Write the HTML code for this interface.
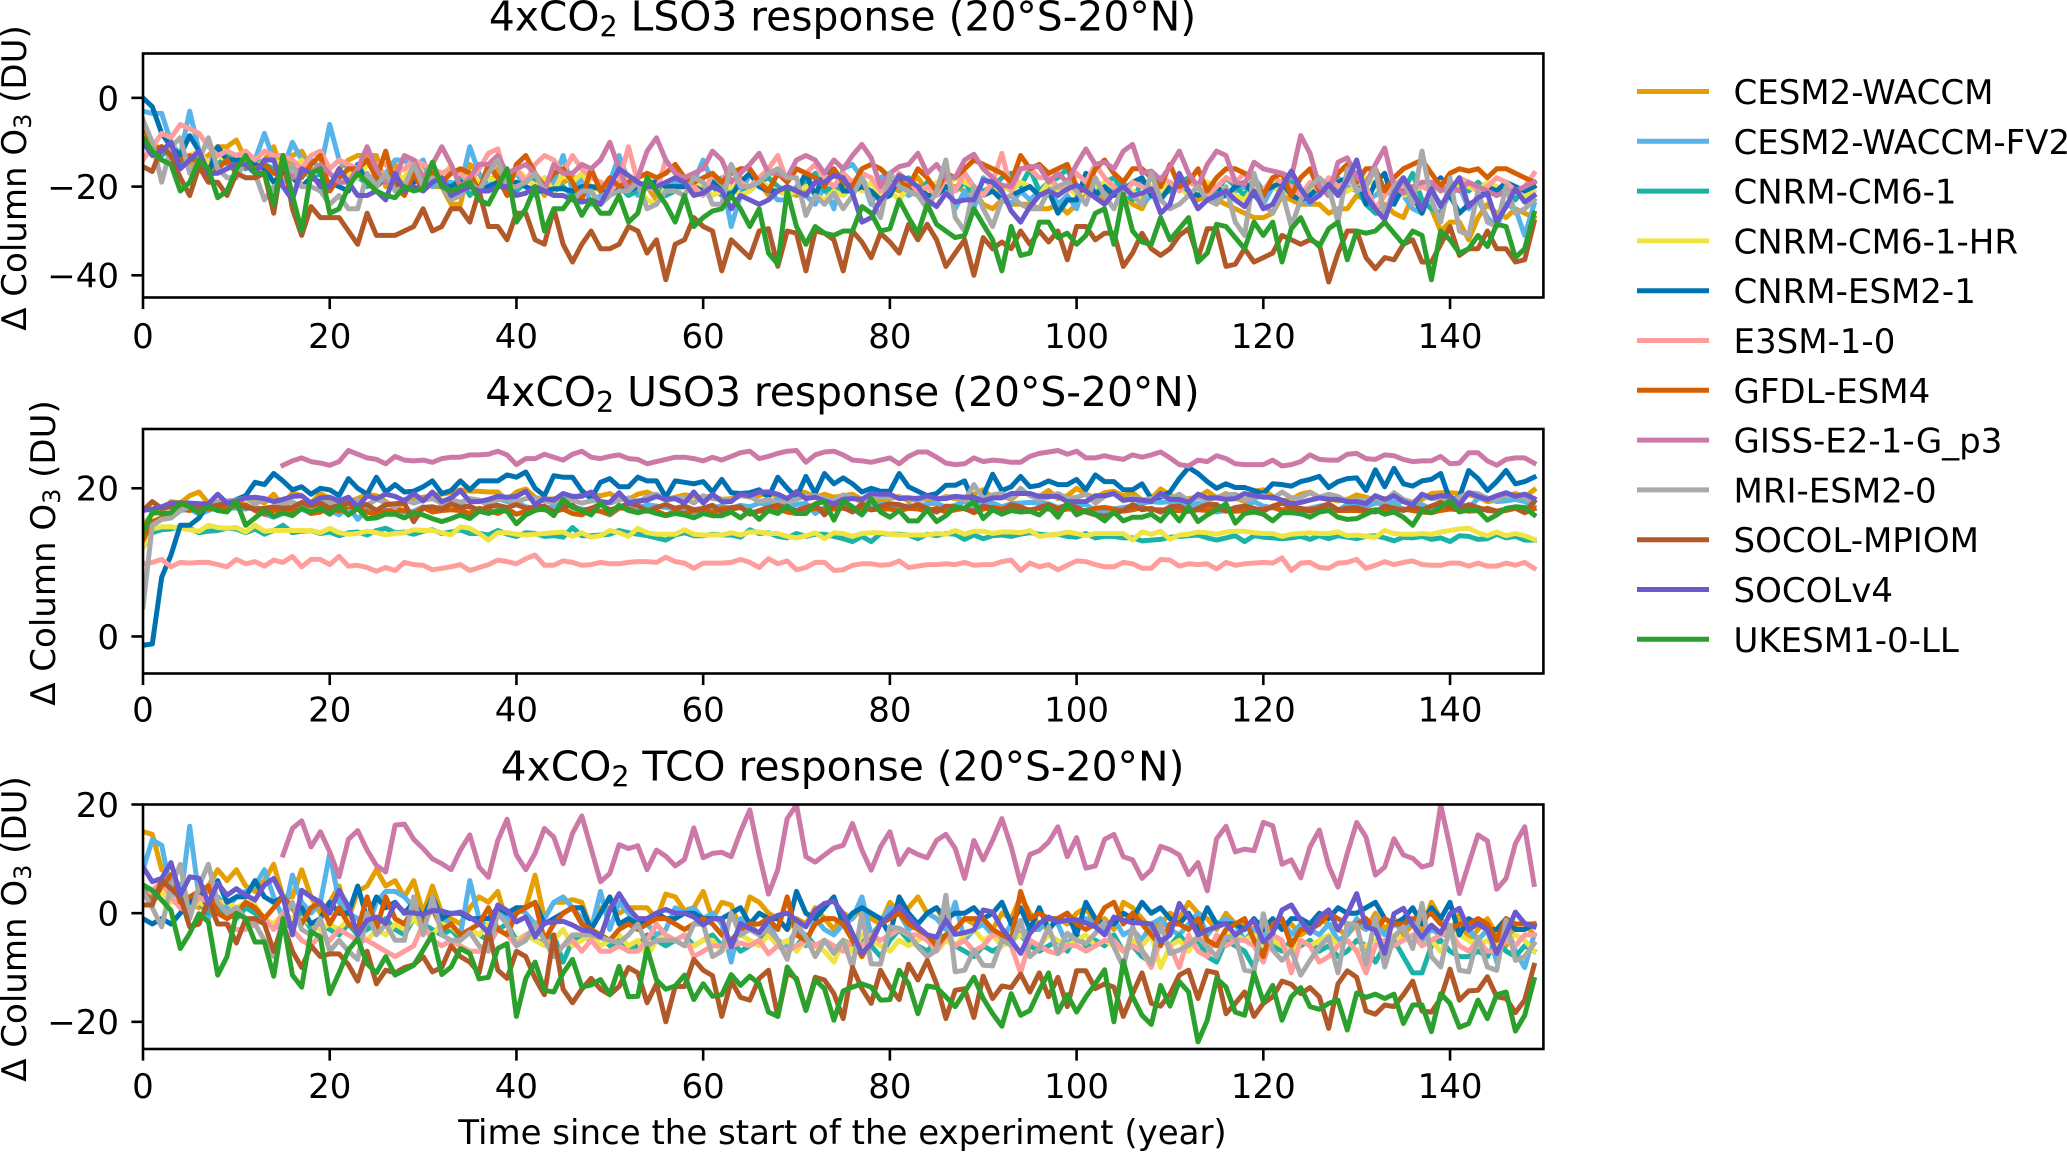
<!DOCTYPE html>
<html lang="en">
<head>
<meta charset="utf-8">
<title>4xCO2 column ozone response</title>
<style>
html,body{margin:0;padding:0;background:#fff;}
svg{display:block;}
text{font-family:"DejaVu Sans","Liberation Sans",sans-serif;fill:#000;}
</style>
</head>
<body>
<svg id="chart" xmlns="http://www.w3.org/2000/svg" width="2067" height="1152" viewBox="0 0 2067 1152"></svg>
<script>
const n = null;
const yearCount = 150;
const modelNames = ["CESM2-WACCM","CESM2-WACCM-FV2","CNRM-CM6-1","CNRM-CM6-1-HR","CNRM-ESM2-1","E3SM-1-0","GFDL-ESM4","GISS-E2-1-G_p3","MRI-ESM2-0","SOCOL-MPIOM","SOCOLv4","UKESM1-0-LL"];
const modelColors = ["#E69F00","#56B4E9","#1BB3A5","#F0E442","#0072B2","#FF9D9D","#D55E00","#CC79A7","#A9A9A9","#B15928","#6A5ACD","#2CA02C"];
const xTickValues = [0,20,40,60,80,100,120,140];
const lsoTicks = [0,-20,-40];
const usoTicks = [0,20];
const tcoTicks = [20,0,-20];

const lso3Cesm = [-7,-10,-12,-13,-14,-15,-14,-13,-11,-11,-9.5,-14,-15,-14,-11,-17,-13,-12,-16,-17,-21,-16,-14,-13,-13,
-13,-20,-15,-21,-15,-15,-20,-20,-24,-24,-15,-17,-21,-16,-21,-20,-19,-18,-22,-19,-19,-18,-18,-20,-20,
-21,-19,-20,-21,-20,-23,-20,-19,-18,-21,-20,-19,-20,-22,-18,-21,-19,-22,-20,-21,-22,-21,-19,-20,-22,
-20,-21,-19,-22,-23,-20,-21,-19,-18,-21,-22,-20,-20,-21,-21,-24,-25,-23,-24,-24,-24,-25,-25,-24,-26,-24,-21,-21,-23,-20,
-22,-24,-25,-21,-22,-21,-20,-21,-23,-22,-23,-24,-25,-26,-27,-27,-26,-22,-23,-24,-24,-24,-26,-25,-25,-22,-23,-25,-24,-26,-27,-22,-23,-25,-30,-28,-28,-32,-27,-24,-26,-27,-25,-26,-27];
const lso3Fv2 = [-3,-3.5,-3.5,-10,-13,-3,-12,-15,-12,-15,-15,-14,-14,-8,-14,-16,-10,-14,-14,-16,-6,-14,-16,-18,-19,
-17,-17,-14,-14,-16,-14,-20,-19,-19,-20,-11,-17,-20,-18,-19,-17,-20,-22,-18,-19,-13,-21,-18,-24,-22,
-19,-13,-19,-22,-20,-21,-22,-19,-20,-19,-14,-19,-18,-29,-22,-17,-20,-21,-23,-23,-20,-22,-24,-20,-25,-16,-15,-18,-24,-18,
-17,-20,-22,-21,-20,-22,-19,-25,-21,-25,-18,-20,-22,-24,-21,-23,-21,-20,-24,-22,-25,-18,-22,-21,-20,-19,-22,-24,-22,-19,
-21,-20,-22,-20,-19,-23,-22,-21,-20,-22,-24,-20,-21,-19,-23,-24,-20,-22,-18,-20,-21,-23,-22,-20,-21,-22,-25,-26,-21,-24,-22,-20,-25,-23,-27,-29,-24,-25,-31,-24];
const lso3Cnrm = [-9,-12,-13,-11,-15,-13,-14,-16,-15,-13,-14,-16,-14,-15,-16,-17,-16,-16,-18,-17,-20,-18,-19,-17,-20,
-19,-17,-19,-20,-18,-19,-17,-19,-20,-18,-22,-20,-18,-19,-20,-21,-19,-18,-20,-21,-20,-22,-20,-21,-19,
-21,-20,-22,-21,-19,-20,-22,-21,-20,-19,-21,-20,-22,-21,-20,-21,-19,-18,-20,-22,-21,-19,-17,-21,-20,-22,-20,-18,-22,-21,
-20,-19,-18,-22,-19,-21,-20,-21,-19,-22,-21,-20,-18,-17,-20,-16,-21,-19,-18,-16,-21,-20,-22,-19,-18,-21,-23,-19,-22,-20,
-21,-19,-18,-20,-23,-21,-18,-20,-22,-18,-21,-20,-19,-19,-21,-22,-19,-20,-21,-18,-20,-24,-26,-26,-23,-21,-17,-23,-25,-26,-21,-19,-21,-19,-21,-22,-21,-23,-20,-19];
const lso3Hr = [-8,-11,-12,-10,-14,-13,-12,-15,-13,-14,-14,-13,-16,-14,-14,-15,-16,-14,-18,-15,-17,-19,-17,-18,-15,
-16,-18,-18,-18,-14,-17,-19,-18,-15,-20,-17,-19,-18,-19,-21,-16,-18,-20,-18,-21,-17,-19,-17,-20,-21,
-19,-20,-18,-20,-23,-24,-20,-21,-20,-19,-20,-22,-21,-20,-22,-21,-19,-20,-21,-22,-21,-20,-22,-23,-21,-22,-20,-21,-19,-22,
-21,-23,-20,-22,-21,-19,-20,-18,-19,-20,-22,-21,-20,-21,-19,-20,-22,-19,-21,-20,-22,-21,-20,-19,-20,-22,-21,-23,-20,-21,
-19,-20,-22,-21,-19,-20,-21,-22,-23,-20,-21,-19,-22,-20,-22,-21,-19,-20,-22,-21,-20,-18,-20,-21,-19,-22,-21,-20,-21,-20,-22,-19,-20,-21,-19,-20,-22,-21,-22,-21];
const lso3Esm = [0,-2,-8,-11,-13,-8.5,-12,-17,-11,-14,-14,-14,-15,-16,-19,-17,-18,-20,-18,-19,-19,-20,-21,-15,-19,
-20,-18,-19,-20,-19,-18,-18,-20,-20,-19,-19,-21,-20,-19,-20,-19,-20,-21,-21,-20.5,-20.5,-21,-20,-20,-20.5,-21,-20,-21,-20,-19,-19,-20,-20,-20,-20,-21,-19,-21,-22,-19,-17,-20,-21,-21,-20,-21,
-17,-22,-17,-16,-21,-21,-20,-21,-23,-22,-18,-21,-20,-22,-22,-20,-21,-17,-20,-22,-21,-23,-22,-21,-20,-22,-21,-26,-23,-23,-17,-22,-20,-22,-21,-19,-18,-22,-23,-20,-19,-21,-22,-21,-20,-22,-20,-19,-22,-21,-20,-19,-22,-23,-22,-20,-22,-19,-18,-17,-24,-19,-17,-24,-20,-22,-26,-20,-18,-22,-26,-24,-23,-20,-21,-19,-20,-21,-20];
const lso3E3sm = [-14,-11,-8,-9,-6,-7,-8,-11,-13,-12,-13,-12,-14,-12,-13,-13,-14,-16,-13,-12,-16,-14,-15,-16,-14,
-15,-15,-17,-16,-14,-15,-16,-17,-16,-17,-19,-16,-12.5,-11.5,-19,-16,-19,-15,-13,-14,-17,-13,-16,-18,-19,
-21,-19,-11,-19,-20,-21,-14,-17,-19,-20,-22,-17,-19,-15,-19,-20,-18,-16,-13,-19,-16,-17,-15,-18,-20,-17,-19,-17,-18,-21,
-20,-17,-19,-21,-20,-22,-18,-21,-17,-20,-22,-19,-12.5,-21,-16,-16,-18,-18,-20,-21,-17,-19,-15,-18,-20,-22,-19,-20,-21,-18,
-19,-21,-19,-20,-22,-20,-18,-19,-17,-19,-21,-18,-19,-20,-22,-19,-21,-18,-20,-19,-19,-20,-25,-22,-19,-20,-20,-20,-21,-19,-21,-18,-19,-21,-20,-18,-19,-21,-20,-17];
const lso3Gfdl = [-5,-12,-11,-13,-14,-13,-15,-18,-16,-14,-17,-15,-16,-15,-17,-18,-18,-18,-15,-13,-21,-18,-16,-16,-14,-18,-12,-20,-22,-17,-21,-17,-19,-17,-16,-17,-21,-15,-18,-22,-15,-13,-17,-20,-17,-16,-19,-23,-16,-21,-18,-20,-19,-18,-17,-18,-17,-15,-18,-19,-18,-17,-19,-17,-16,-16,-19,-21,-17,-19,-16,-17,-18,-20,-16,-19,-20,-16,-15,-16,-18,-19,-20,-16,-18,-21,-17,-18,-16,-14,-15,-16,-17,-19,-13,-16,-15,-17,-16,-15,-20,-21,-16,-14,-17,-19,-16,-16,-18,-20,-15,-20,-19,-16,-21,-18,-16,-16,-17,-18,-22,-18,-17,-22,-18,-16,-21,-20,-17,-15,-19,-16,-16,-21,-18,-16,-15,-14,-17,-20,-17,-16,-16.5,-16,-18,-16,-16,-17,-18,-19];
const lso3Giss = [n,n,n,n,n,n,n,n,n,n,n,n,n,n,n,-14,-18,-16,-17,-15,-17,-19,-19,-16,-11,-16,-19,-18,-13,-14,-18,-15,-11,-15,-20,-18,-15,-15,-13,-17,-16,-15,-17,-21,-15,-17,-17,-15,-16,-14,-10,-16,-21,-18,-12,-9,-14,-17,-18,-17,-16,-12,-14,-19,-17,-15,-12.5,-17,-17,-18,-14,-13,-14,-17,-14,-16,-13,-10.5,-13.5,-20,-17,-15.5,-15,-12.5,-17,-15,-18,-18,-14,-12.7,-16,-18,-19.7,-20,-16,-15.5,-15.5,-19,-17,-19,-15,-11.5,-15,-14.5,-16,-12,-10.5,-17,-16.5,-18.5,-15.5,-12,-17,-20,-15,-12,-13,-19,-19.5,-14.5,-16,-16.5,-17,-18,-8.5,-12.5,-20,-22,-14.5,-13.5,-18,-19.3,-15,-11.3,-20,-21.5,-20,-19,-19,-21,-20,-21,-19,-20,-21,-22,-21,-21,-20,-19];
const lso3Mri = [-5,-10,-19,-11,-9,-17,-14,-9,-16,-18,-18,-14,-17,-23,-20,-19,-15,-20,-20,-21,-24,-22,-25,-25,-17,-20,-17,-21,-20,-15,-20,-18,-20,-23,-22,-19,-21,-17,-14,-20,-20,-19,-17,-21,-22,-22,-23,-21,-21,-24,-22,-21,-21,-19,-25,-24,-21,-21,-22,-18,-19,-24,-24,-15,-20,-20,-19,-17,-16,-18,-18,-26.5,-22,-24,-21.5,-25,-22,-18,-23,-27,-17,-20,-21,-22,-25,-21,-14,-27,-30,-20,-25,-29,-23,-22,-24,-25,-25,-21,-20,-19,-21,-24,-18,-22,-25,-20,-22,-24,-17,-23,-25,-24,-22,-20,-23,-24,-20,-28,-31,-17,-24,-26,-21,-29,-23,-20,-18,-20,-28,-16,-21,-20,-16,-27,-20,-18,-24,-12,-23,-28,-18,-30,-31,-21,-28,-29,-20,-26,-25,-23];
const lso3Mpiom = [-15.5,-16.6,-11,-13,-18,-22,-15.5,-19,-19,-22,-17,-18,-18,-17,-26,-13,-25,-31,-24.5,-27,-27,-27,-30,-33,-26,-31,-31,-31,-30,-29,-25,-30,-29,-25,-25,-28,-21,-29,-29,-32,-26,-26,-32,-33,-25,-33,-37,-33,-30,-34,-34,-33,-29,-30,-35,-32,-41,-33,-32,-27,-29,-30,-39,-32,-34,-36,-30,-29.5,-38,-30,-30.5,-39,-30,-30.5,-32,-39,-30,-32.5,-36,-30.5,-32.5,-35,-28.5,-32,-28.5,-32,-38,-35,-32,-40,-31.5,-34,-32.5,-34,-30,-33,-30,-32.5,-30,-36.5,-29,-29,-32,-30.5,-30.5,-38,-35,-30.5,-34,-35.5,-34,-31,-29.5,-36,-29.5,-29.5,-38,-37.5,-34,-37,-36,-35,-31,-32,-33,-32,-33,-41.5,-35,-30,-30,-36,-38.5,-36,-36.5,-33,-32,-37,-37,-33,-29,-35.5,-34,-34,-30,-34,-34,-37,-36.5,-28];
const lso3V4 = [-10,-13,-12,-10,-16,-14,-12,-17,-17,-16,-15,-15,-17,-14,-14,-20,-23,-16,-17,-20,-20,-16,-19,-22,-22,-21,-23,-17,-21,-20,-21,-19,-18,-22,-21,-20,-21,-21,-20,-20,-22,-21.5,-20,-21,-22,-22,-23,-23.5,-23,-24,-20,-16,-17.5,-19,-20,-20,-19,-18,-19,-22,-21.5,-20,-21,-25,-22,-23,-24,-23,-21,-20,-21,-22,-19,-19,-17.5,-18,-21.5,-28,-27,-23,-21,-17.5,-18.5,-20,-23,-24.5,-21.5,-23.5,-23,-23,-18.5,-19,-21,-25.5,-28,-24.5,-22,-21,-22,-20.5,-19.7,-21,-22.5,-24,-21.5,-20,-22,-21.5,-20.5,-26,-24,-17,-21,-25,-23,-22,-21,-23,-24.5,-21,-25,-24,-20,-16.5,-20.5,-23.5,-22,-19.5,-22,-18.5,-14,-22,-25,-27.5,-21.5,-18,-21.5,-25,-20.5,-24.5,-21,-18,-24.5,-22.5,-21.5,-28,-24.5,-20.5,-23.5,-22];
const lso3Uk = [-9,-12,-14,-15,-21,-19,-14,-16,-22.5,-21,-16,-13,-17,-17,-24,-13,-22,-30,-17,-16,-26,-25,-20,-17,-19,-21,-22,-22.5,-20,-21,-20.5,-14.5,-20,-21,-20,-19,-23,-24,-20,-16,-28,-25,-20,-30,-25,-25,-22,-26.5,-23,-26,-26,-22,-28,-26,-18,-21,-24,-28,-22,-29,-27,-25.5,-25,-22,-25,-29,-25,-35,-37.5,-21,-29,-33,-29,-30.5,-31,-30,-30,-24.5,-26,-30,-29.5,-23,-27,-30.5,-24,-28.5,-30,-31.5,-31,-25,-28.5,-32,-39,-29,-35.5,-35,-28,-28,-31.5,-30.5,-33,-31,-26,-25,-33,-21.7,-30,-32.5,-33,-27,-32,-29.5,-27,-37,-35,-28.5,-29,-31.5,-34,-28,-31,-28,-37,-29.5,-27,-31.5,-33.5,-29.5,-28,-36.5,-30,-30.5,-30,-28,-30.5,-33,-30,-31,-41,-30,-32,-35,-34,-31,-33.5,-28.5,-29,-36,-34,-26];

const uso3Cesm = [15,16.5,17,18.2,18,19,19.5,18,18.2,17.8,17.7,18.8,18.5,18,19.2,17.6,19.4,19,18,19.3,18.6,18,18.2,18.6,19.2,19,18.2,17.4,18,18.6,18.8,19,19.2,19.4,19.8,19.6,19.6,19.5,19.5,18.4,19.5,19.9,18.8,18.4,18.6,18.2,18.5,19.2,19.1,19,19.3,18.6,18.5,19.2,19.5,18.9,18.5,18.8,19.1,18.9,18.7,19,18.5,18.6,19,18.8,19,19.5,18.8,18.5,19.6,19.4,18.8,19.2,18.8,19,19.2,18.5,18.7,18.2,18.6,18.9,18.3,18.7,18.5,18.4,18.9,18.6,18.3,19.2,19.8,18.7,19,18.5,19.5,19.1,18.9,19.7,18.6,19,20,19.2,18.7,19.4,19.6,19,19.4,18.4,18.6,19.9,19.1,18.4,18.6,18.8,19.6,18.7,19.3,18.7,18.2,19.6,19.8,18.9,18.3,18.5,19.2,19.5,18.8,18.6,18.3,18.5,19.1,18.8,18.4,18.6,17.9,18.3,18,18.5,19.3,19.4,19.4,19.3,19.1,18.8,18.2,18.4,19,19.3,18.8,19.8];
const uso3Fv2 = [13,15,15.8,16,17,17.2,16.5,17,17.5,17.4,17.3,17.2,17.6,16.5,16.1,16.6,16.9,17.2,16.6,17,17,16.4,17.5,15.8,17.1,16.8,17.2,16.6,16.8,16.9,17.5,17,17.6,18.4,18,17.4,16.9,17.2,18.6,18.2,18.1,17.5,17.3,17.4,17.5,17.9,17.5,17.2,17,16.9,16.4,17.3,17.4,17.2,17.8,17.6,17.4,17.2,16.9,16.6,17.2,17.4,17.6,17.3,17.7,17.5,18,17.8,18.6,17.6,17.8,18,16.6,17.4,18.1,17.5,17.2,16.4,17.8,17.9,17.8,17.2,17.7,17.5,17.9,18,17.4,17.7,18.2,17.6,17.9,18,17.5,17.9,18,18.1,18,17.9,17.4,17.7,17.8,17.8,17,16.8,17.2,17.4,17.6,18,18.2,18.1,18.2,18,17.7,18,17.6,16.8,17,17,17.6,18.2,17.6,17.4,17,16.8,16.5,17.3,17.6,17.8,17,17.8,18,17.5,18,17.9,18.2,17,17.6,17.8,17.2,17.9,18.1,18,17.4,18.6,18.7,18.2,18.3,18.5,18.2,17.5];
const uso3Cnrm = [12,14,14.4,14.5,14.8,14.6,14,14.2,14.3,14.6,14.5,14,14.5,13.8,14.3,15,14,14.2,14.3,13.9,14.1,13.6,14,14.1,13.7,14.3,14.6,14,14.1,13.8,14.2,14.4,13.9,14.1,14.4,13.9,13.9,13.7,14.3,13.8,13.5,14,13.9,13.5,13.6,13.4,14.7,13.6,13.6,13.7,13.8,14.3,14,13.8,13.6,13.3,13,13.7,14,13.6,13.6,13.8,13.7,13.7,13.4,14.4,13.9,14,13.5,13.3,13.9,13.5,13.8,13.8,13.5,13.2,12.8,13.5,12.8,13.9,13.8,13.8,13.7,13.2,13.8,13.6,13.9,13.8,13.1,13.7,13.2,13.6,13.7,13.5,13.8,14,13.8,13.7,13.8,13.5,13.4,13.9,13.3,13.5,13.5,13.3,13.3,12.9,13,13.1,13.4,13.5,13.6,13.7,13.3,13,13.3,13.6,12.8,13.6,13.4,13.3,13.2,13.3,13.5,13.1,13.6,13.2,13.6,13.4,13.2,13.5,13.6,13.3,12.9,13.4,13.3,13.5,13.1,13.3,12.8,13.6,13.5,13.1,13.2,13.8,13.3,13.5,13,13];
const uso3Hr = [12,14.5,14.8,14.8,14.6,14.4,14.2,15,14.7,14.6,14.7,14.1,15,14.2,14.3,14.3,14.3,14.3,14.3,14,14.6,14,13.8,13.9,14.2,14,13.7,13.9,14,14.4,14.3,14.3,14,13.7,14.8,14.6,13.9,13,14,14,13.8,13.7,13.8,13.9,14,14.1,13.5,14,13.4,13.6,14.3,14,13.5,14.6,14,13.8,13.8,13.8,14.4,13.8,13.7,13.7,13.7,14,13.7,14.1,14.1,13.9,13.9,13.5,13.3,13.6,14,13.2,14,13.9,13.5,13.9,14,14,13.8,13.7,13.7,13.7,13.7,13.9,13.8,14.3,13.8,14.2,14.2,13.9,14.1,14.1,14,14.3,13.5,13.7,13.8,14.1,13.9,13.6,13.9,13.9,13.9,13.9,13,14.1,13.8,14.2,13.1,13.7,13.8,14.1,14,13.8,14.1,14.2,14.2,14,13.9,13.9,13.5,13.8,13.9,14,13.9,13.9,14.1,13.6,13.7,13.5,13.4,14.3,13.9,13.8,13.8,13.9,13.8,14.1,14.3,14.5,14.6,14,13.6,14.1,13.6,13.9,13.6,13.1];
const uso3Esm = [-1.2,-1,8,11,15,15,16,18,18,17.7,18.5,19,20.8,20.5,22,21,19.8,20.2,19.2,20,19.8,19,21.3,20,19.2,21.5,19.5,20.5,19.5,19.6,20.2,21,19.3,19.7,21,19.8,21,21,21,21.8,21.5,22.2,20,19,21.7,21.5,21.5,19.7,18.6,20.8,21.3,20.2,20.2,21.5,21,21,18.8,21,20.8,20.6,20.9,19.5,21.2,19.4,19.3,19.4,19.8,18.8,21.5,20,18.8,21.6,19.3,22,20.6,21.4,20.6,19.5,20,19.6,19.6,22,20.2,19.6,19,19.3,20.4,20.4,21,18,19,21.9,19.7,20.2,21.6,20.2,20.4,21,20.5,20.5,21.2,19.8,21.8,20.9,20.9,19.8,19.8,20.6,18.6,18.8,19.5,21.3,22.8,22,20.9,20,20.6,20.1,20.1,19.7,19.3,20.6,20.5,20.3,20.9,21.2,21.6,20.1,20.9,21.3,21.4,19.7,22.5,20.2,22.7,20.6,20.3,21,21.2,22,18.4,18.8,22.4,21.3,19.7,20.9,22.4,20.6,20.9,21.5];
const uso3E3sm = [9.8,10,10.4,9.4,10,9.9,10,10,9.7,9.4,10.4,9.8,10.1,9.5,10.3,10,10.8,9.4,10.4,10.4,9.7,10.8,9.5,9.6,9.3,8.8,9.3,8.9,10,9.7,9.6,9,9.2,9.4,9.7,8.9,9.3,9.7,10.3,10.1,9.8,10.5,11,9.6,9.6,10.2,10,9.6,9.7,10,9.8,9.8,10,10.1,10.1,10,10.7,10.1,9.9,9.2,9.9,9.9,9.9,10,10.4,10,9.3,10.5,9.8,10.2,9,9.3,10,10,8.9,9,9.6,9.8,9.8,9.6,9.7,10.2,9.3,9.5,9.7,9.7,9.8,9.7,10,9.6,9.7,9.7,10.1,10.3,8.9,9.9,9.4,9.7,9,9.6,10.2,10.1,9.7,9.4,9.4,10,9.8,9.2,9.2,10.4,10.3,9.5,9.8,9.7,9.8,9.1,10,9.6,9.8,9.9,10,9.9,10.6,8.9,9.9,10,9.3,9.2,9.9,10,10.4,9.2,9.6,10.1,9.7,10,10.2,9.7,9.6,9.6,9.9,9.9,9.5,9.9,9.5,9.5,9.9,9.6,10,9.2];
const uso3Gfdl = [13,15.5,16,16.5,17.2,17,17.8,17.2,17.4,17.5,17.6,17.8,17,16.5,17,17.2,17,17.5,16.6,16.8,17.4,16.9,17.6,17.3,16.8,16.4,16.9,17.1,17,16.6,17.4,16.8,17,17.1,17,16.6,17.3,17,16.6,17.2,16.5,16.9,17.2,17.1,16.8,17.2,16.6,16.4,17.2,16.9,16.5,17.4,17.2,16.7,17.1,16.9,16.4,16.8,16.6,17,17.1,16.7,17.3,17.2,17.4,16.7,16.9,17,17.2,16.8,16.6,17,17.3,17.1,17.2,17.3,17.1,17.4,17.1,17.2,17.2,17,17.3,17.2,16.9,17.3,16.8,17.1,17.3,16.7,17.2,17.4,17.2,17.5,17.3,17.1,17.3,17.2,17,17.2,17.2,16.9,17.3,17.4,17.2,16.9,17.1,17.4,17.1,17.1,17,17,16.9,17.1,17,17.2,17,16.9,17,17,17.2,17.4,17.1,17.1,17.2,17.2,17.2,17.1,17,17,17,16.9,17.1,17,17,17.2,17,16.8,16.7,17,17.2,17.1,16.9,17,17.3,16.9,17,17.3,16.7,17.2];
const uso3Giss = [n,n,n,n,n,n,n,n,n,n,n,n,n,n,n,23.1,23.7,24.1,23.6,23.4,23.1,23.6,25.1,24.6,24.1,23.9,23.3,24.3,23.8,23.7,23.8,23.5,24,24.2,24.2,24.5,24.5,24.6,25,24.5,23.2,24,24,24.6,24.2,23.8,24.6,25,24.2,24,24.3,24.5,24,23.9,23.3,23.6,23.9,24.2,24.2,24,23.7,24.2,23.8,24.3,24.8,25,24,24.3,24.7,25,25.1,23.5,24.5,24.9,25,24.5,23.8,23.7,23.5,23.8,24.1,23.3,24.3,24.9,24.9,24.2,23.4,23.2,23.3,24.1,23.6,23.8,23.7,23.5,23.5,24.3,24.7,24.9,25.1,24.6,25,24.1,24.1,24.4,24.1,23.9,24.5,24.2,24.5,24.9,24.1,23.2,23,23.8,23.6,24.4,24,23.3,23.2,23.2,23.2,23.8,23,23.2,23.6,24.5,23.9,23.8,23.8,24.6,24.7,24,23.9,24.5,24.4,23.9,23.6,23.7,23.7,24.3,23.3,23.4,24.8,24.8,23.7,23.1,23.9,24.1,24.1,23.4];
const uso3Mri = [4,15,15.8,16,17,17.5,17.5,18,18.2,18.3,18.4,18.7,17.9,18.5,18.3,17.8,18.2,17.4,17.7,18.4,17.9,18.4,17.8,18.4,17.7,18.5,18.1,17.4,18.5,18,18.4,18.6,18,18.5,18.1,18.6,18.4,17.7,18.5,18.5,18.2,18.6,18.7,18.3,18.1,18.9,18.4,18,18.3,18.3,18,18.4,18.7,18,18.9,19.2,18.3,18.7,18.7,18,19,18.6,18.5,18.4,19,18.9,18.2,18.5,18,18.3,18.5,19,19,18.6,18.3,19.1,18.8,18.1,18.6,18.9,18.7,18.8,18.7,18.2,18.9,18.4,18.8,18.9,18.3,20.5,18.6,19.1,19.3,18.6,20,19,18.5,18.8,19.3,18.6,18.8,19.2,18,18.9,19.3,18.3,18.8,18.4,18.6,19.1,18.6,19.2,18.3,18.8,18.3,18.8,19.1,19.2,18.4,18.7,19,18.6,19.5,18.7,18.8,19.4,18.8,19.2,18.9,18.2,18.5,18.4,18.8,18.2,19.4,18.5,18.1,19,18.6,18.7,18.2,18.8,19.4,19.3,18.6,18.4,19.2,18.9,18.7,18.2];
const uso3Mpiom = [17,18.2,17.3,17.5,18.1,17.6,17.2,17.5,17.7,18,17.9,17.4,17.2,17.3,17.5,17.3,17.4,18.1,17.6,18,17.3,17.7,18,17.5,17.8,17,17.8,17.9,18,15.5,17.4,17.5,17.2,17.9,17.4,17.6,17,17.5,17.7,17.4,17.8,17.3,17.4,17.6,16.8,17.5,17.7,16.9,17.3,17.8,17.1,17.4,18,17.7,16.9,17.4,17.8,17.3,17.6,17.1,17.3,17.7,16.8,17.4,17.5,16.5,17,17.4,17.7,17.3,17,17.4,17.8,16.4,17.8,17.4,16.8,17.9,17.1,17.6,17.9,17.8,17.4,17.8,17.3,16.8,17.6,17.5,17.2,16.9,17.6,17.3,17,17.8,17.5,16.9,17.4,17.8,17.2,17.8,17.4,16.8,16.4,16.2,16.6,17,17.8,17.1,17.3,16.8,17.5,17.6,16.9,17.3,17.8,17.8,16.9,17.4,17.6,17.3,16.9,17.6,18,17.5,17.3,16.9,17.4,17.9,17.1,17.3,17.4,17,16.8,17.6,17.3,17,17.5,17.1,17.6,18.1,17.4,17.2,17.8,17.4,17,16.9,17.2,17.4,16.8,18.2];
const uso3V4 = [17,17.2,17.5,18,18,18,17.9,17.9,19.2,18,18.3,18.7,18.8,18.6,18.2,18.5,18.9,19,18,18.7,18.8,18.3,18.8,17.5,19,18.6,19.2,18.9,18.3,19.3,18.3,19.5,18.2,18.7,19.7,18.2,18.2,18.5,18.9,18.8,18.9,19.6,17.8,18.6,18.4,19.3,18.9,18.9,19.5,18.1,18.1,19.4,18,18.3,18.4,18.9,18.5,18.6,18,19.5,18,19.2,18.2,18.2,19.2,19,19.5,19.5,19.2,18.6,19.5,18.6,18.8,18.3,17.9,18.5,18.6,18.5,19.3,19.2,19.2,18.6,18.7,18.6,19,18.6,18.6,18.9,18.8,18.8,18.3,18.7,18.7,19.3,19.3,19.3,18.9,18.9,18.9,18.2,18.2,18.2,19,19,19.3,18.4,18.5,18.4,18.2,19.3,18.5,18.5,18.1,19.2,18.7,18.7,18.5,18.6,19.3,19,18.8,18.8,18.4,17.9,18.1,18.4,18.7,18.5,18.5,18.2,18.2,17.9,19,18.5,19,18.2,17.8,19.2,18.7,19,18.9,17.8,19.4,18.9,18.5,19,19.4,18.9,19.2,18.6];
const uso3Uk = [14,16.8,16.6,16.7,18,17.5,16.7,17.5,17,16.8,18.2,15,16,17,16.2,16.7,16.3,17.3,16.8,17.3,16.5,17.6,16.4,17.3,15.9,16,16.5,16.5,16,16.7,16.4,15.9,15.5,15.9,16.4,15.9,16.9,16.6,17,16.9,15.2,16.4,17,17.3,16.3,18.5,17.4,17,16.4,18,16.7,17.7,17,16.7,17,16.6,16.3,16.6,16.4,16,16.6,16.3,16.3,16.8,16,17,15.8,17,16.6,17.6,16.6,16.6,17.9,18.2,15.7,18.3,17.5,16.4,18.6,16.8,16.1,17,15.6,15.6,17.1,15.5,16.3,17.5,17.3,18.2,15.9,17.1,16.5,17,16.8,16.9,16.4,17.5,16.1,18,16.4,17,16.5,15.6,16.8,15.6,16.1,16.1,16.5,15.6,17.1,15.6,17.5,15.5,16.4,17.1,17.9,15.3,16.6,16.8,16.5,15.6,16.7,16.7,16.6,16.1,16.8,17,16.1,15.8,15.9,16.5,17.1,16.5,16.8,16.1,15,17,16.7,17.5,18.3,16.8,17.1,17,15.7,16.4,17.3,17.5,17.4,16.4];

const tcoCesm = [15,14.5,8,7,5,2,1,5,8,6,8,5,4,6,9,3,3,8,3,0,2,5,-1,4,5,8,5,6,3,6,0,5,0,-1,-2,1,3,2,4,-2,0,1,7,-1,2,2,2.5,2,-3,1,1,0,1,1,1,-1,3.5,3,0.5,1,4,-1,2,1.5,-3,3,2,0,-1,-3,-1,-2,1,-1,-3,0,-1,1,-1,-2,2,0,1,3,0,1,-2,-3,-1,-2,-1,-3,0,-1,3,0,-2,-3,-1,-2,0,1,-2,-1,-3,2,1,-1,-3,-2,0,-1,2,0,-1,-3,0,-2,-2,-3,-1,-3,-2,-2,-4,-3,-1,-2,-3,-4,-2,-3,0,-3,-1,-4,-2,-3,2,-1,-4,0,-5,-3,-1,-4,-6,-2,-2,-4,-1,-5];
const tcoFv2 = [8,13.5,12.5,4,2,16,3,-1,3,1,3,4,5,8,3,-1,7,2,0,2,11,2,0,-1,-3,2,4,4,3,1,-1,2,-1,-2,-4,6,-1,-3,1,-1,1,0,-2,-1,2,3,1,-1,-3,4,-3,2,0,-3,-2,-4,-3,1,0,1,-1,0,-2,-9,-1,-2,-4,-2,-5,-6,-3,-6,-1,-3,-4,-2,-1,3,-4,-2,1,0,-3,-2,0,-1,-3,2,-5,-3,-2,-4,-5,-2,-4,-3,-3,-1,-2,-6,-3,-1,-2,-3,-1,-4,-3,-5,-2,-1,-3,-4,-2,0,-4,-2,-1,-2,-5,-3,-4,-2,-1,-4,-2,-3,-4,-2,-5,-4,-1,-3,-2,-4,-2,-3,-1,-5,-3,-4,-4,-2,-3,-5,-3,-9,-2,-7,-10,-4];
const tcoCnrm = [5,3,4,3,1,3,2,0,1,0,-1,1,0,-2,-2,-3,-1,0,-3,-2,-3,-4,-2,-4,-3,-2,-1,-3,-4,-1,-2,-3,-4,-3,-5,-3,-4,-5,-3,-2,-5,-4,-5,-5.5,-4,-9,-5,-4,-5,-4,-6,-5,-7,-6,-4,-5,-6,-5,-4,-6,-5,-4,-6,-5,-7,-6,-5,-4,-6,-7,-6,-4,-6,-5,-7,-5,-6,-5,-6,-8,-5,-3,-5,-6,-7,-5,-4,-6,-7,-8,-6,-7,-6,-5,-4,-6,-7,-6,-5,-7,-4,-6,-5,-6,-4,-7,-6,-8,-9,-5,-6,-4,-6,-5,-8,-9,-5,-6,-7,-10,-5,-6,-7,-5,-6,-5,-7,-6,-8,-7,-5,-6,-9,-6,-5,-8,-11,-11,-6,-5,-7,-8,-8,-7,-8,-5,-7,-8,-6,-7];
const tcoHr = [4,2,4,2,3,1,2,1,2,2,1,2,1.5,-1,-2,0,-1,-1,-2,-3,-2,-3,-1,-3,-5,-3,-4,-2,-3,-1,-3,-4,-2,-2.5,-4,-3,-4,-2,-3,-4,-5,-4,-5,-6,-5,-3,-6,-5,-4,-6,-5,-4,-6,-5,-8,-5,-4,-5,-6,-6,-5,-5,-7,-5,-4,-5,-6,-4,-6,-5,-7,-5,-6,-7,-9,-5,-7,-4,-5,-6,-7,-5,-6,-5,-4,-7,-5,-6,-4,-3,-5,-4,-6,-5,-4,-5,-6,-4,-5,-6,-5,-4,-6,-5,-6,-7,-5,-6,-4,-10,-6,-5,-7,-4,-6,-5,-4,-4,-5,-4,-6,-5,-6,-7,-5,-6,-5,-4,-6,-5,-7,-6,-5,-6,-4,-5,-4,-6,-5,-7,-4,-4,-5,-6,-5,-6,-5,-4,-5,-7];
const tcoEsm = [-1,-2,-1,-2,0,2,4,1,6,2,3,3,6,3,2,3,1,1,-2,-1,2,0,0,5,-1,3,1,2,0,2,-1,3,-1,0,0,-1,-1,-1,1,0,1,1,2,-2,-1,0,1,1,-3,0,3,-2,-1,-2,-1,0,-1,-1,0,0,-1,-1,-1,0,1,-2,0,-1,-1,-3,4,0,-1,1,3,-2,0,1,0,-1,-4,3,0,-2,0,1,-1,0,0,1,-1,0,2,-2,1,-3,1,-3,-1,0,-4,2,-1,-2,-2,0,-1,2,0,1,-1,-2,0,-3,1,-2,-2,-2,-3,-1,-3,-1,-3,-1,-1,-2,0,-1,1,0,0,1,2,-1,-2,-1,1,-2,1,-1,2,-4,-1,-2,-3,-3,-1,-3,-3,-2,-2];
const tcoE3sm = [3,4,6,3,1,0,3,2,-2,-2,-3,-3,-2,-1,-3,0,-3,-5,-6,-4,-5,-3,-4,-5,-5,-6,-7,-8,-7,-6,-2,-5,-6,-5,-6,-7,-7,-6,-3,-4,-6,-4,-3,-4,-8,-6,-5,-7,-5,-7,-7,-6,-7,-7,-5,-2,-4,-5,-4,-8,-7,-6,-6,-6,-5.5,-6,-5,-7.5,-6,-7,-6,-5,-6,-5,-6,-7,-5,-6,-4,-5,-4,-3,-4,-4,-5,-7,-4,-6,-5,-7,-6,-4,-4,-6,-11,-5,-6,-7,-7.5,-6,-6,-7,-6,-5,-5,-7,-6,-7,-10,-5,-6,-10,-4,-7,-8,-4,-6,-5,-5,-6,-9,-4,-5,-11,-5,-6,-9,-8,-6,-5,-7,-11,-6,-5,-6,-5,-4,-6,-5,-4,-3.5,-6,-7,-5,-7,-7,-5,-6,-4,-4];
const tcoGfdl = [4,2,5,7,2,3,4,5,0,-1,0,2,1,-1,1,3,1,-2,1,2,-2,1,-2,-3,3,-3,3,-1,-2,1,-2,1,-3,-2,-4,-3,-2,1,-3,-4,0,1,2,-5,-2,0,1,-2,-3,-4,-5,-3,-2,-3,-2,-1,-1,-2,-3,-2,-1,-2,-4,-5,-3,-2,-2,-1,-3,3,-4,-5,-2,-1,-1,-2,-5,-8,-5,-2,-1,0,-2,-3,-4,-6,-4,-3,-1,-1,-1,-3,-4,-5,4,-1,0,-1,-1,0,-2,-3,-2,1,2,-2,0,-2,-4,-6,-2,-2,-3,-1,-5,-6,-3,-2,-1,-5,-8,-2,-1,-6,-3,-3,-2,0,-1,-2,-2,-1,-3,-1,-2,-2,-1,-1,0,-2,-3,-2,-2,-1,-2,-5,-1,-2,-2,-2];
const tcoGiss = [n,n,n,n,n,n,n,n,n,n,n,n,n,n,n,10.7,15.6,17,12.2,15,11.3,6.7,13.6,15.2,11.6,8.8,7.6,16.2,16.4,13.6,11.9,10,9.1,8,11.6,14.4,8.5,6.6,13.4,17.3,10.7,8,11,15.6,14,9.1,14.7,17.9,11.9,5.8,7.3,12.6,11.9,12.4,8,11.6,10.5,8.7,9.9,15.7,10.2,11,11.2,10.4,15,19,10.7,3.5,8,17.4,19.9,10.4,9.4,10.7,12,12.5,16.5,11.6,7.9,12.2,15,9,11.7,10.8,10.2,13.4,14.5,11.9,6.4,13.4,9.8,13.4,17.4,12.2,5.5,10.8,11.5,13.1,15.9,10.4,13.9,8.3,8.7,13.6,14.5,10.4,9.8,6.4,8,12.3,11.7,10.7,7.1,9.3,4.1,13.7,16,11.3,11.8,11.5,16.7,16.1,9,9.8,6.5,12.2,15.3,8.7,4.8,11,16.7,14,7,8.5,13.7,10.7,10.1,8.5,9,19.9,12.2,3.6,9.1,14.4,13.3,4.4,6.4,12.8,15.9,5.3];
const tcoMri = [4,1,-2.5,5,9,-1,5,9,2,0,1,-1,-2,-5,-8,-1,2,-3,-4,-1,-7,-5,-7,-8.5,0,-4,-2,-5,-5,3,-4,3,-4,-5,-5,-3.5,-6,-7,0,-2,-6,-5,-2,-5,-8,-6,-4,-4,-4,-4.5,-5,-5.5,-4,-2,-6,-5,-5,-5,-6,-2,-2,-8,-7,0,-4,-3,-4,-3,-5,-8.5,-2,-4.4,-8,-5,-7.4,-5,-9.9,-0.1,-9.3,-9.4,-2.5,-2.8,-3.7,-6.2,-8,-6.8,3.3,-10.8,-10.5,-6.8,-9.6,-9.7,-5,-5.9,-1.3,-8,-6.5,-2.5,-7.4,-3.7,-5,-5.6,-3.7,-1.6,-6.2,-9.9,-2.5,-6.8,-9.3,-1.9,-7.4,-6.8,-5.9,-4.4,-6.2,-8,-4.4,-4.4,-10.5,-10.8,-0.1,-6.8,-8.7,-6.8,-11.4,-8.7,-6.2,-4.4,-11,-1.9,-2.2,-9.3,-0.7,-9.9,-4.4,-2.5,-6.5,1.8,-8,-9.9,-2.2,-10.5,-10.8,-4.4,-9.9,-10.5,-1.3,-8.7,-8,-5.6];
const tcoMpiom = [1.5,1.5,6,4.5,3,-2.5,-2,2.4,-2,-2,-5.5,-1,-1,-2,-7,-2,-7,-10,-6,-8,-7.5,-7.5,-9.5,-12.5,-7,-13,-10.5,-11,-10,-9.5,-8,-10.8,-10,-6,-8,-9,-11,-3,-10.5,-12,-7,-8,-12,-15,-4,-14,-16.5,-14,-12,-14,-15,-13.5,-10,-11,-16.5,-13,-20,-13.5,-13.5,-8.5,-10.5,-11.5,-19,-12.5,-15.5,-16,-12,-10.5,-19,-11,-12,-17.9,-11.8,-12.3,-14.8,-19.4,-10,-13.9,-16.6,-10.5,-13.6,-15.9,-9.4,-12.3,-8.7,-13,-19.4,-14.2,-13.9,-19.2,-11.6,-15.7,-13.4,-13.7,-11.2,-14.5,-11,-15.4,-11.8,-17.2,-10.6,-10.6,-13.9,-13,-13.6,-19,-14.8,-11,-16.6,-17.1,-14.9,-11.4,-10.5,-15.7,-10.6,-11,-18.5,-16.6,-14.5,-19,-16.6,-15.4,-12.5,-13.1,-14.8,-13.7,-15.4,-21.2,-13,-10.6,-11.8,-18,-18.6,-16.9,-17.2,-15,-12.5,-18,-18.2,-15.7,-10.3,-16,-14.3,-14.2,-11.7,-15.4,-15.7,-18.3,-16,-9.6];
const tcoV4 = [8.5,5.8,6.4,9.3,3.3,6.7,6.4,1.8,5.5,3.3,4.5,3.3,2.4,5.2,6.4,3,-4,4.2,3,2,0,4.2,1.2,-4,-1.3,-0.7,-1.9,1.8,0.2,0,-0.2,0.5,0.4,-0.1,0.2,-0.7,-1.9,-3.6,1.5,0.5,-1.6,-0.7,-4.4,-1.8,-1.6,-1.5,-2.2,-3.1,-3.3,-4.4,0.6,3.6,0.9,-1,-1,0,0.7,0,0,-0.7,-2.2,-1,-1.1,-6.2,-1.9,-2.8,-3.6,-1.3,-0.4,0,-1.3,-2.5,0.5,1.8,2.2,-0.1,-3.7,-7.4,-5.6,-1.9,-0.4,1.3,-0.7,-2.5,-4,-4.4,-1.3,-3.9,-3.6,-3.1,0.6,0.2,-2.8,-5,-7.4,-3.7,-1.9,-0.7,-1.6,-1.3,-1.2,-1.8,-2.5,-4,-0.7,-1.3,-1.8,-1.8,-2,-5.3,-4,1.8,-0.7,-4,-3.1,-2.5,-1.9,-4,-2.8,-1.3,-5.3,-3.7,0.6,1.5,-1.3,-3.7,-0.7,0.6,-3.1,-0.1,3.6,-2.5,-3.1,-7.4,-0.1,0.9,-2.2,-4.4,-2.2,-3.7,-0.1,0.9,-3.1,-1.9,-3.1,-7.4,-3.7,0.2,-1.9,-2.5];
const tcoUk = [5.2,4.2,2.4,0.5,-6.5,-3.7,-0.1,-1.6,-11.4,-8,0,-1,-5.3,-5.3,-11.6,-1,-11.4,-13.6,-3.4,-4.4,-14.8,-11,-6.8,-4.7,-9.3,-11,-8,-11.4,-10.5,-9.6,-6.8,-3.9,-11.3,-9.9,-6.5,-7.4,-12.1,-11.8,-6.5,-5.6,-19,-12,-9,-14.2,-14.5,-11,-8.5,-13.6,-13.2,-12.2,-15,-9.8,-15.4,-15.3,-6.5,-12.3,-14,-13.4,-11.4,-15.9,-13,-15.3,-15,-11.3,-13.3,-11.6,-13,-18.2,-19,-9.9,-12.3,-17.9,-12.3,-13.9,-19.7,-14.3,-13.6,-13,-13.6,-16,-15.9,-10.5,-13,-18.5,-13.4,-13.7,-15.4,-17.2,-14.5,-11.8,-15.7,-18.5,-20.8,-14.8,-18.8,-17.9,-14.2,-11,-18.2,-15,-18.2,-15.4,-13,-10.4,-20,-8.8,-15.4,-18.8,-20.5,-13.3,-17.1,-12.6,-14.5,-23.7,-19.7,-12,-13.6,-18.2,-18.8,-11,-16.3,-13.3,-19.7,-15.4,-13.7,-17.2,-17.7,-16.6,-16,-21.5,-14.7,-15.5,-14.9,-15.7,-14.9,-20.3,-16.9,-16.9,-21.8,-14.8,-16.6,-21,-20.3,-16,-19.4,-15,-14.5,-21.7,-18.8,-12.2];

const lsoSeries = [lso3Cesm,lso3Fv2,lso3Cnrm,lso3Hr,lso3Esm,lso3E3sm,lso3Gfdl,lso3Giss,lso3Mri,lso3Mpiom,lso3V4,lso3Uk];
const usoSeries = [uso3Cesm,uso3Fv2,uso3Cnrm,uso3Hr,uso3Esm,uso3E3sm,uso3Gfdl,uso3Giss,uso3Mri,uso3Mpiom,uso3V4,uso3Uk];
const tcoSeries = [tcoCesm,tcoFv2,tcoCnrm,tcoHr,tcoEsm,tcoE3sm,tcoGfdl,tcoGiss,tcoMri,tcoMpiom,tcoV4,tcoUk];

const NS = "http://www.w3.org/2000/svg";
const svg = document.getElementById("chart");
const AX_LEFT = 143, AX_RIGHT = 1543.4, X_MAX = 150;
const BASE_FONT = 34, TITLE_FONT = 40.8, STROKE = 5, SPINE = 2.6;

function mk(tag, attrs, parent) {
  const el = document.createElementNS(NS, tag);
  for (const k in attrs) el.setAttribute(k, attrs[k]);
  (parent || svg).appendChild(el);
  return el;
}
function xScale(v) { return AX_LEFT + (AX_RIGHT - AX_LEFT) * v / X_MAX; }
function yScaleFor(p) {
  return function (v) { return p.top + (p.bottom - p.top) * (p.yMax - v) / (p.yMax - p.yMin); };
}
function mathLabel(el, before, sub, after, size, drop) {
  el.appendChild(document.createTextNode(before));
  const s = mk("tspan", {dy: drop, "font-size": size}, el);
  s.textContent = sub;
  const a = mk("tspan", {dy: -drop}, el);
  a.textContent = after;
}

const panels = [
  {key:"lso3", label:"LSO3", top:53.5, bottom:297.5, yMin:-45, yMax:10, ticks:lsoTicks, series:lsoSeries, titleBase:30.5, tickBase:348, ylabelX:26, ylabelY:178},
  {key:"uso3", label:"USO3", top:429, bottom:673.5, yMin:-5, yMax:28, ticks:usoTicks, series:usoSeries, titleBase:406, tickBase:721.5, ylabelX:55, ylabelY:553},
  {key:"tco",  label:"TCO",  top:804.5, bottom:1049, yMin:-25, yMax:20, ticks:tcoTicks, series:tcoSeries, titleBase:780.5, tickBase:1098, ylabelX:26, ylabelY:929}
];

panels.forEach(function (p) {
  const yScale = yScaleFor(p);
  const g = mk("g", {});
  
  

  const clipId = "clip-" + p.key;
  const defs = mk("defs", {}, g);
  const cp = mk("clipPath", {id: clipId}, defs);
  mk("rect", {x: AX_LEFT, y: p.top, width: AX_RIGHT - AX_LEFT, height: p.bottom - p.top}, cp);

  const linesG = mk("g", {"clip-path": "url(#" + clipId + ")"}, g);
  p.series.forEach(function (vals, si) {
    let d = "";
    let pen = false;
    vals.slice(0, yearCount).forEach(function (v, i) {
      if (v === null) { pen = false; return; }
      d += (pen ? "L" : "M") + xScale(i).toFixed(1) + " " + yScale(v).toFixed(1);
      pen = true;
    });
    const line = mk("path", {d: d, fill: "none", stroke: modelColors[si], "stroke-width": STROKE, "stroke-linejoin": "round", "stroke-linecap": "square"}, linesG);
    
    
  });

  xTickValues.forEach(function (t) {
    const x = xScale(t);
    const tick = mk("line", {x1: x, x2: x, y1: p.bottom, y2: p.bottom + 11.6, stroke: "#000", "stroke-width": SPINE}, g);
    
    
    const lab = mk("text", {x: x, y: p.tickBase, "text-anchor": "middle", "font-size": BASE_FONT}, g);
    
    
    lab.textContent = String(t);
  });
  p.ticks.forEach(function (t) {
    const y = yScale(t);
    const tick = mk("line", {x1: AX_LEFT - 11.6, x2: AX_LEFT, y1: y, y2: y, stroke: "#000", "stroke-width": SPINE}, g);
    
    
    const lab = mk("text", {x: 119, y: y + 12.4, "text-anchor": "end", "font-size": BASE_FONT}, g);
    
    
    lab.textContent = String(t).replace("-", "\u2212");
  });

  const frame = mk("rect", {x: AX_LEFT, y: p.top, width: AX_RIGHT - AX_LEFT, height: p.bottom - p.top, fill: "none", stroke: "#000", "stroke-width": SPINE}, g);
  
  

  const title = mk("text", {x: 842.5, y: p.titleBase, "text-anchor": "middle", "font-size": TITLE_FONT}, g);
  
  
  mathLabel(title, "4xCO", "2", " " + p.label + " response (20\u00B0S-20\u00B0N)", 28.5, 6);

  const yl = mk("text", {x: p.ylabelX, y: p.ylabelY, "text-anchor": "middle", "font-size": BASE_FONT, transform: "rotate(-90 " + p.ylabelX + " " + p.ylabelY + ")"}, g);
  
  
  mathLabel(yl, "\u0394 Column O", "3", " (DU)", 24, 5);
});

const xTitle = mk("text", {x: 842.5, y: 1144, "text-anchor": "middle", "font-size": BASE_FONT});


xTitle.textContent = "Time since the start of the experiment (year)";

const legend = mk("g", {});


modelNames.forEach(function (name, i) {
  const y = 91.5 + 49.8 * i;
  const entry = mk("g", {}, legend);
  
  
  const swatch = mk("line", {x1: 1637, x2: 1709, y1: y, y2: y, stroke: modelColors[i], "stroke-width": STROKE}, entry);
  
  
  const label = mk("text", {x: 1733.5, y: y + 12.5, "font-size": BASE_FONT}, entry);
  
  
  label.textContent = name;
});
</script>
</body>
</html>
